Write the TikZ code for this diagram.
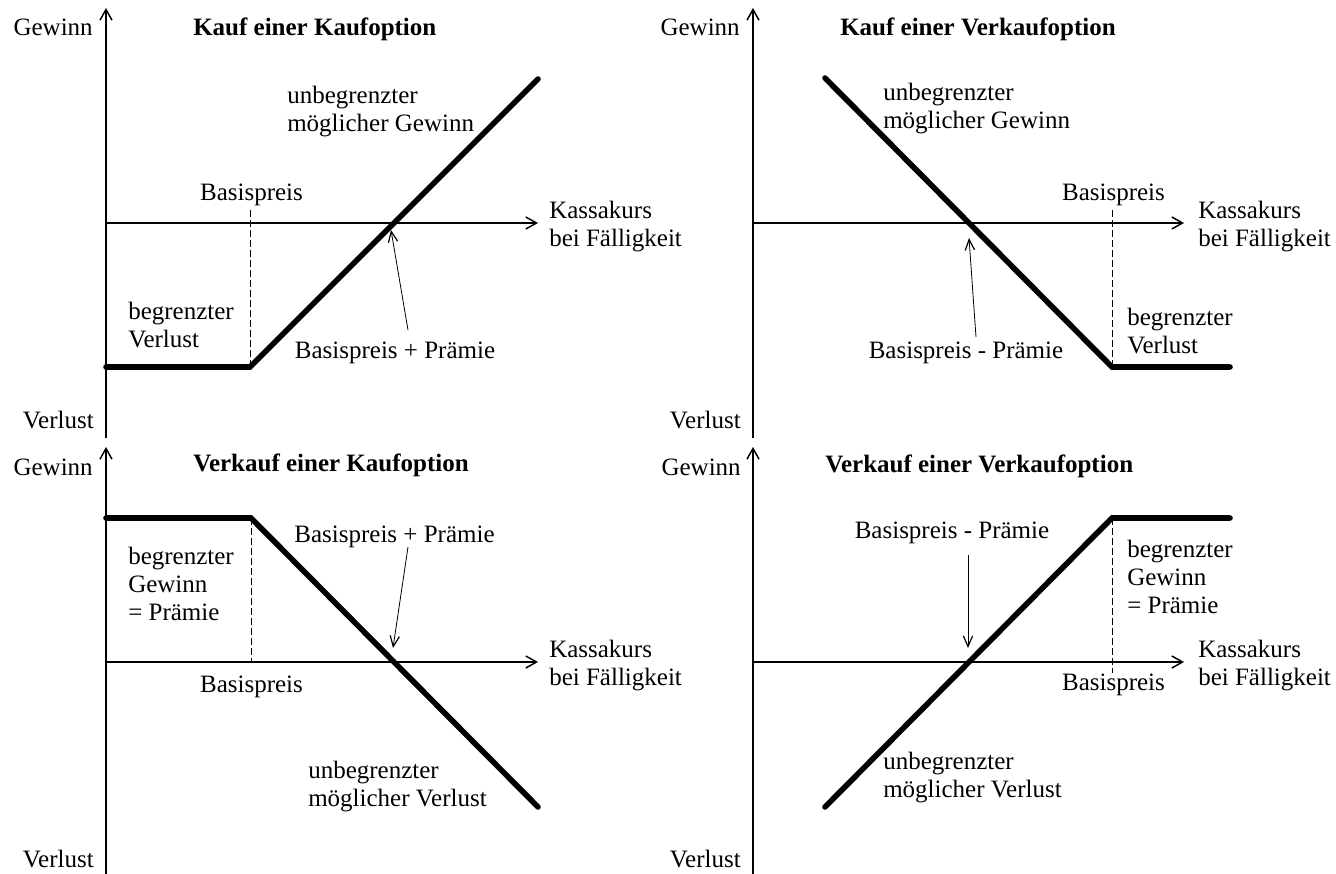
\documentclass[tikz,border=0pt]{standalone}
\usepackage{fontspec}
\setmainfont{Liberation Serif}
\usetikzlibrary{arrows.meta}

\begin{document}
\begin{tikzpicture}[
  x=0.75pt,y=0.75pt,
  font=\fontsize{18.75}{21}\selectfont,
  axis/.style={line width=0.9pt,-{Straight Barb[length=8pt,width=9pt,line width=1.1pt]}},
  payoff/.style={line width=4.2pt,line cap=round},
  strike/.style={line width=0.6pt,dash pattern=on 5pt off 2.5pt},
  pointer/.style={line width=0.6pt,-{Straight Barb[length=8pt,width=7pt,line width=0.9pt]}},
  txt/.style={inner sep=0pt,align=left},
  title/.style={inner sep=0pt,anchor=west,font=\fontsize{18.75}{21}\selectfont\bfseries},
]
\useasboundingbox (0,0) rectangle (1336,-874);

% === Kauf einer Kaufoption ===
\begin{scope}[shift={(106,-223)}]
  \coordinate (oKK) at (0,0);
  \coordinate (topKK) at (0,215);
  \coordinate (botKK) at (0,-215);
  \coordinate (endKK) at (432,0);
  \draw[axis] (botKK) -- (topKK);
  \draw[axis] (oKK) -- (endKK);
  \draw[payoff] (0,-144) -- (144,-144) -- (432,144);
  \draw[strike] (144,13) -- (144,-144);

  \node[txt,anchor=east] (gewKK) at (-13,196) {Gewinn};
  \node[txt,anchor=east] (verKK) at (-12,-197) {Verlust};
  \node[title] (titleKK) at (87,194) {Kauf einer Kaufoption};
  \node[txt] (basisKK) at (145.5,28) {Basispreis};
  \node[txt,anchor=west] (kassaKK) at (443,-4) {Kassakurs\\bei Fälligkeit};
  \node[txt,anchor=west] (unbKK) at (181,111) {unbegrenzter\\möglicher Gewinn};
  \node[txt,anchor=west] (begKK) at (22,-102) {begrenzter\\Verlust};
  \node[txt] (bpKK) at (289,-130) {Basispreis + Prämie};

  \coordinate (pKK) at (302,-107);
  \coordinate (zKK) at (285,-7);
  \draw[pointer] (pKK) -- (zKK);
\end{scope}

% === Kauf einer Verkaufoption ===
\begin{scope}[shift={(753,-223)}]
  \coordinate (oKV) at (0,0);
  \coordinate (topKV) at (0,215);
  \coordinate (botKV) at (0,-215);
  \coordinate (endKV) at (431,0);
  \draw[axis] (botKV) -- (topKV);
  \draw[axis] (oKV) -- (endKV);
  \draw[payoff] (72,145) -- (359,-144) -- (477,-144);
  \draw[strike] (359,13) -- (359,-144);

  \node[txt,anchor=east] (gewKV) at (-13,196) {Gewinn};
  \node[txt,anchor=east] (verKV) at (-12,-197) {Verlust};
  \node[title] (titleKV) at (87,194) {Kauf einer Verkaufoption};
  \node[txt] (basisKV) at (360.5,28) {Basispreis};
  \node[txt,anchor=west] (kassaKV) at (445,-4) {Kassakurs\\bei Fälligkeit};
  \node[txt,anchor=west] (unbKV) at (130,114) {unbegrenzter\\möglicher Gewinn};
  \node[txt,anchor=west] (begKV) at (374,-108) {begrenzter\\Verlust};
  \node[txt] (bpKV) at (213,-130) {Basispreis - Prämie};

  \coordinate (pKV) at (223,-114);
  \coordinate (zKV) at (216,-15);
  \draw[pointer] (pKV) -- (zKV);
\end{scope}

% === Verkauf einer Kaufoption ===
\begin{scope}[shift={(106,-662)}]
  \coordinate (oVK) at (0,0);
  \coordinate (topVK) at (0,215);
  \coordinate (botVK) at (0,-212);
  \coordinate (endVK) at (432,0);
  \draw[axis] (botVK) -- (topVK);
  \draw[axis] (oVK) -- (endVK);
  \draw[payoff] (0,144) -- (145,144) -- (432,-145);
  \draw[strike] (145,144) -- (145,0);

  \node[txt,anchor=east] (gewVK) at (-13,195) {Gewinn};
  \node[txt,anchor=east] (verVK) at (-12,-197) {Verlust};
  \node[title] (titleVK) at (87,197) {Verkauf einer Kaufoption};
  \node[txt] (basisVK) at (145.5,-25) {Basispreis};
  \node[txt,anchor=west] (kassaVK) at (443,-4) {Kassakurs\\bei Fälligkeit};
  \node[txt,anchor=west] (begVK) at (22,78) {begrenzter\\Gewinn\\= Prämie};
  \node[txt,anchor=west] (unbVK) at (202,-125) {unbegrenzter\\möglicher Verlust};
  \node[txt] (bpVK) at (288.5,125) {Basispreis + Prämie};

  \coordinate (pVK) at (302,115);
  \coordinate (zVK) at (287,14);
  \draw[pointer] (pVK) -- (zVK);
\end{scope}

% === Verkauf einer Verkaufoption ===
\begin{scope}[shift={(753,-662)}]
  \coordinate (oVV) at (0,0);
  \coordinate (topVV) at (0,215);
  \coordinate (botVV) at (0,-212);
  \coordinate (endVV) at (431,0);
  \draw[axis] (botVV) -- (topVV);
  \draw[axis] (oVV) -- (endVV);
  \draw[payoff] (72,-145) -- (359,144) -- (477,144);
  \draw[strike] (359,144) -- (359,-11);

  \node[txt,anchor=east] (gewVV) at (-12,195) {Gewinn};
  \node[txt,anchor=east] (verVV) at (-12,-197) {Verlust};
  \node[title] (titleVV) at (72,196) {Verkauf einer Verkaufoption};
  \node[txt] (basisVV) at (360.5,-23) {Basispreis};
  \node[txt,anchor=west] (kassaVV) at (445,-4) {Kassakurs\\bei Fälligkeit};
  \node[txt,anchor=west] (begVV) at (374,85) {begrenzter\\Gewinn\\= Prämie};
  \node[txt,anchor=west] (unbVV) at (130,-116) {unbegrenzter\\möglicher Verlust};
  \node[txt] (bpVV) at (199,129) {Basispreis - Prämie};

  \coordinate (pVV) at (215,107);
  \coordinate (zVV) at (215,14);
  \draw[pointer] (pVV) -- (zVV);
\end{scope}

\end{tikzpicture}
\end{document}
